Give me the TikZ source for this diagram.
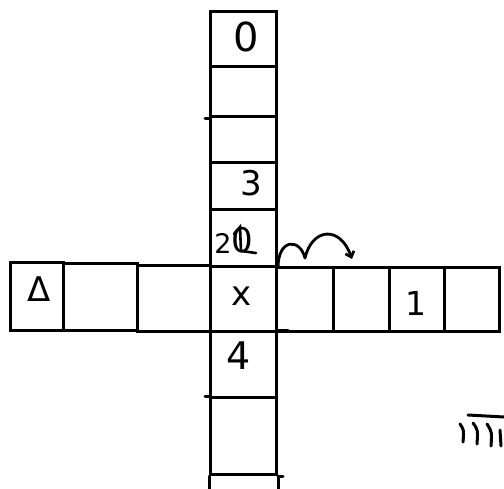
\documentclass[tikz,border=0pt]{standalone}
\usepackage{fontspec}
\setsansfont{DejaVu Sans}
\usetikzlibrary{arrows.meta}
\begin{document}
\begin{tikzpicture}[x=1pt,y=-1pt,
  cell/.style={draw=black,line width=3pt,inner sep=0pt,anchor=north west},
  lbl/.style={font=\sffamily\fontsize{#1}{#1}\selectfont,inner sep=0pt},
  stroke/.style={line width=3pt,line cap=round},
  hop/.style={line width=2.8pt,line cap=round,-{Straight Barb[length=5pt,width=9pt]}}]
\useasboundingbox (0,0) rectangle (504,488);
% vertical column
\node[cell,minimum width=66pt,minimum height=55pt] (v0) at (209,10) {};
\node[cell,minimum width=66pt,minimum height=50pt] (v1) at (209,65) {};
\node[cell,minimum width=66pt,minimum height=46pt] (v2) at (209,115) {};
\node[cell,minimum width=66pt,minimum height=47pt] (v3) at (209,161) {};
\node[cell,minimum width=66pt,minimum height=57pt] (v4) at (209,208) {};
\node[cell,minimum width=66pt,minimum height=65pt] (vx) at (209,265) {};
\node[cell,minimum width=66pt,minimum height=66pt] (v6) at (209,330) {};
\node[cell,minimum width=66pt,minimum height=77pt] (v7) at (209,396) {};
% horizontal row
\node[cell,minimum width=53pt,minimum height=68pt] (h0) at (9,261) {};
\node[cell,minimum width=74pt,minimum height=67pt] (h1) at (62,262) {};
\node[cell,minimum width=73pt,minimum height=66pt] (h2) at (136,264) {};
\node[cell,minimum width=57pt,minimum height=64pt] (h4) at (275,266) {};
\node[cell,minimum width=56pt,minimum height=64pt] (h5) at (332,266) {};
\node[cell,minimum width=55pt,minimum height=64pt] (h6) at (388,266) {};
\node[cell,minimum width=55pt,minimum height=64pt] (h7) at (443,266) {};
% column continues to bottom
\draw[stroke] (v7.south west) -- ++(0,15);
\draw[stroke] (v7.south east) -- ++(0,15);
% small overshoots
\draw[stroke] (v1.south west) -- ++(-4,0);
\draw[stroke] (v7.north west) -- ++(-4,0);
\draw[stroke] (v7.south east) -- ++(5,0);
\draw[stroke] (v6.north east) -- ++(10,0);
% labels
\node[lbl=40] (t0) at (246,37) {0};
\node[lbl=34] (t3) at (251,183) {3};
\node[lbl=27] (t2) at (223,243) {2};
\node[lbl=34] (t20) at (242,240) {0};
\draw[line width=2.6pt,line cap=round] (234,234) -- (240,227) -- (241,251) -- (256,253);
\node[lbl=34] (tx) at (242,296) {x};
\node[lbl=38] (t4) at (239,356) {4};
\node[lbl=34] (td) at (39,289) {Δ};
\node[lbl=33] (t1) at (416,303) {1};
% hops
\coordinate (hopmid) at (305,258);
\coordinate (hopend) at (352,259);
\draw[line width=2.8pt,line cap=round] (v4.south east) .. controls (278,238) and (300,238) .. (hopmid);
\draw[hop] (hopmid) .. controls (312,228) and (340,225) .. (hopend);
% scribble bottom right
\draw[stroke] (468,415) -- (504,417);
\draw[stroke] (460,424) .. controls (464,430) .. (463,442);
\draw[stroke] (473,423) .. controls (478,430) .. (477,444);
\draw[stroke] (487,424) .. controls (492,432) .. (491,446);
\draw[stroke] (500,430) -- (501,446);
\end{tikzpicture}
\end{document}
